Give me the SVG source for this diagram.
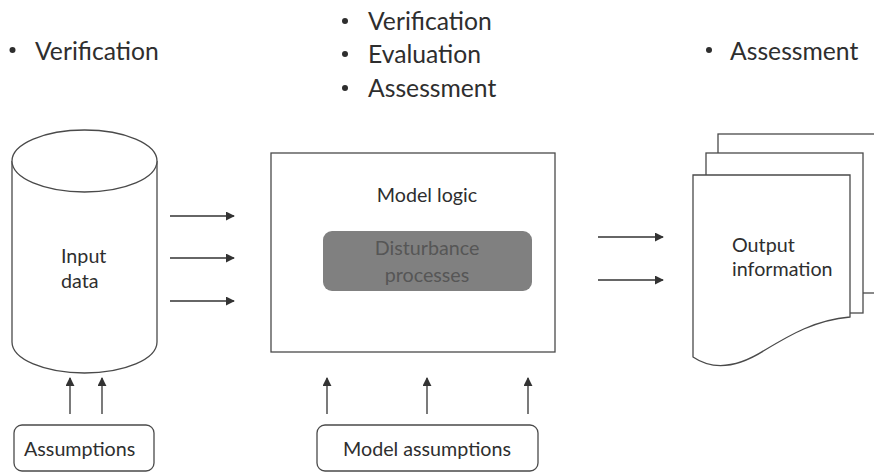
<svg xmlns="http://www.w3.org/2000/svg" width="874" height="472" viewBox="0 0 874 472">
  <style>
    .shape { fill: #ffffff; stroke: #4a4a4a; stroke-width: 1.3; }
    .conn { stroke: #333333; stroke-width: 1.3; fill: none; marker-end: url(#arrow); }
    .label { font-family: Lato, "Open Sans", "Liberation Sans", sans-serif; font-size: 19.7px; fill: #2e2e2e; }
    .head { font-family: Lato, "Open Sans", "Liberation Sans", sans-serif; font-size: 24.7px; fill: #2e2e2e; }
    .dot { fill: #2e2e2e; }
  </style>
  <defs>
    <marker id="arrow" viewBox="0 0 10 10" refX="9" refY="5" markerWidth="9" markerHeight="9" markerUnits="userSpaceOnUse" orient="auto">
      <path d="M0,0 L10,5 L0,10 Z" fill="#333333"/>
    </marker>
  </defs>

  <rect width="874" height="472" fill="#ffffff"/>

  <!-- bullet headings -->
  <g id="heading-input">
    <circle class="dot" cx="12.5" cy="50" r="3"/>
    <text class="head" x="35" y="60">Verification</text>
  </g>
  <g id="heading-model">
    <circle class="dot" cx="345" cy="21" r="3"/>
    <text class="head" x="368" y="30">Verification</text>
    <circle class="dot" cx="345" cy="54" r="3"/>
    <text class="head" x="368" y="63">Evaluation</text>
    <circle class="dot" cx="345" cy="88" r="3"/>
    <text class="head" x="368" y="97">Assessment</text>
  </g>
  <g id="heading-output">
    <circle class="dot" cx="709" cy="50" r="3"/>
    <text class="head" x="730" y="60">Assessment</text>
  </g>

  <!-- input data store -->
  <g id="input-data">
    <path class="shape" d="M12,161 V342 A72.5,31 0 0 0 157,342 V161"/>
    <ellipse class="shape" cx="84.5" cy="161" rx="72.5" ry="31"/>
    <text class="label" x="61" y="263">Input</text>
    <text class="label" x="61" y="288">data</text>
  </g>

  <!-- model logic -->
  <g id="model-logic">
    <rect class="shape" x="271" y="153" width="284" height="199"/>
    <text class="label" x="427" y="202" text-anchor="middle">Model logic</text>
  </g>
  <g id="disturbance-processes">
    <rect x="323" y="231" width="209" height="60" rx="9" fill="#808080"/>
    <text class="label" x="427" y="255" text-anchor="middle" style="fill:#565656">Disturbance</text>
    <text class="label" x="427" y="282" text-anchor="middle" style="fill:#565656">processes</text>
  </g>

  <!-- output document stack -->
  <g id="output-information">
    <rect class="shape" x="718" y="134" width="170" height="159"/>
    <rect class="shape" x="706" y="153" width="157" height="160"/>
    <path class="shape" d="M693,175 H850 V317 C815,320 790,335 765,350 C740,366 715,372 693,357 Z"/>
    <text class="label" x="732" y="252">Output</text>
    <text class="label" x="732" y="276">information</text>
  </g>

  <!-- assumption boxes -->
  <g id="assumptions">
    <rect class="shape" x="14" y="425" width="140" height="46" rx="8"/>
    <text class="label" x="24" y="456">Assumptions</text>
  </g>
  <g id="model-assumptions">
    <rect class="shape" x="317" y="425" width="221" height="46" rx="8"/>
    <text class="label" x="427" y="456" text-anchor="middle">Model assumptions</text>
  </g>

  <!-- connectors -->
  <g id="connectors">
    <line class="conn" x1="170" y1="216" x2="234" y2="216"/>
    <line class="conn" x1="170" y1="258" x2="234" y2="258"/>
    <line class="conn" x1="170" y1="301" x2="234" y2="301"/>
    <line class="conn" x1="598" y1="237" x2="663" y2="237"/>
    <line class="conn" x1="598" y1="280" x2="663" y2="280"/>
    <line class="conn" x1="70" y1="414" x2="70" y2="378"/>
    <line class="conn" x1="102" y1="414" x2="102" y2="378"/>
    <line class="conn" x1="327" y1="414" x2="327" y2="378"/>
    <line class="conn" x1="427" y1="414" x2="427" y2="378"/>
    <line class="conn" x1="528" y1="414" x2="528" y2="378"/>
  </g>
</svg>
